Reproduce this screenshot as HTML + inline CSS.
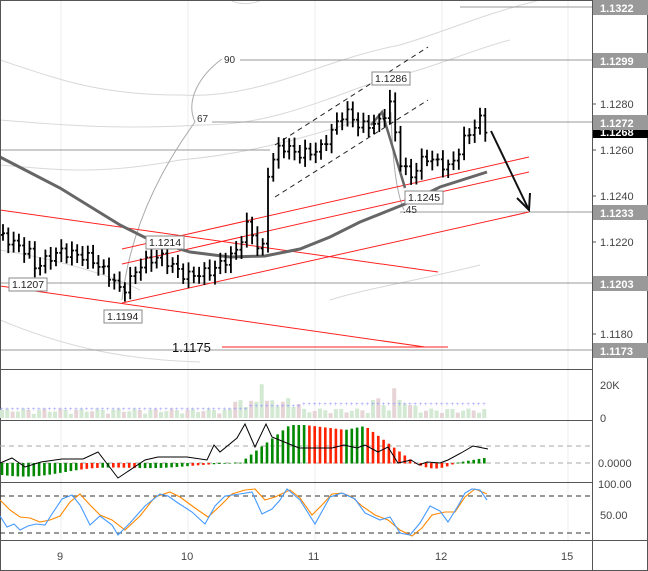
<!DOCTYPE html>
<html><head><meta charset="utf-8"><style>
body{margin:0;background:#fff;}
svg{display:block;font-family:"Liberation Sans",sans-serif;}
</style></head><body>
<svg id="s" width="648" height="571" viewBox="0 0 648 571" xmlns="http://www.w3.org/2000/svg">
<rect x="0" y="0" width="648" height="571" fill="#fff"/>
<g id="grid" stroke="#eee" stroke-width="1">
<line x1="61" y1="0" x2="61" y2="540"/><line x1="188" y1="0" x2="188" y2="540"/><line x1="315" y1="0" x2="315" y2="540"/><line x1="442" y1="0" x2="442" y2="540"/><line x1="568" y1="0" x2="568" y2="540"/>
</g>
<g fill="none" stroke="#d8d8d8" stroke-width="1">
<path d="M0,60 C60,80 100,95 180,95 C260,100 320,60 400,45 C450,30 480,15 540,0"/>
<path d="M0,120 C60,125 120,130 200,125 C260,125 300,110 380,80 C430,70 470,50 510,40"/>
<path d="M0,165 C60,170 100,175 180,160 C240,155 300,140 360,120"/>
<path d="M0,320 C60,345 120,360 200,362"/>
<path d="M330,300 C360,290 420,280 480,265"/>
<path d="M0,250 C60,260 110,275 140,290"/>
<path d="M230,0 C240,5 250,5 262,0"/>
</g>
<g stroke="#999" stroke-width="1">
<line x1="460" y1="7" x2="592" y2="7"/>
<line x1="240" y1="60" x2="592" y2="60"/>
<line x1="212" y1="122" x2="592" y2="122"/>
<line x1="400" y1="212" x2="592" y2="212"/>
<line x1="0" y1="283" x2="592" y2="283"/>
<line x1="0" y1="350" x2="592" y2="350"/>
<line x1="0" y1="150" x2="270" y2="150"/>
</g>
<path d="M122,300 C130,230 160,170 195,122 C185,100 200,75 222,59" fill="none" stroke="#aaa"/>
<path d="M391,112 C392,150 395,190 404,210" fill="none" stroke="#aaa"/>
<text x="224" y="63" font-size="10" fill="#333">90</text>
<text x="197" y="122" font-size="10" fill="#333">67</text>
<text x="403" y="213" font-size="10" fill="#333">.45</text>
<g stroke="#f22" stroke-width="1">
<line x1="0" y1="210" x2="438" y2="272"/>
<line x1="0" y1="286" x2="425" y2="347"/>
<line x1="122" y1="303" x2="529" y2="212"/>
<line x1="122" y1="264" x2="529" y2="172"/>
<line x1="122" y1="249" x2="529" y2="157"/>
<line x1="222" y1="347" x2="448" y2="347"/>
</g>
<text x="172" y="352" font-size="13" fill="#111">1.1175</text>
<g stroke="#222" stroke-dasharray="5,4" stroke-width="1">
<line x1="275" y1="145" x2="428" y2="47"/>
<line x1="275" y1="197" x2="428" y2="100"/>
</g>
<path d="M0,157 L60,188 L120,225 L150,240 L190,252 L230,257 L265,256 L300,249 L330,237 L360,222 L395,208 L405,204 L440,187 L487,172" fill="none" stroke="#666" stroke-width="3"/>
<path d="M371,125 L382,112 L405,188" fill="none" stroke="#666" stroke-width="2.5"/>
<g id="bars" stroke="#000" stroke-width="1.8"></g>
<line x1="491" y1="131" x2="528" y2="208" stroke="#111" stroke-width="2"/>
<path d="M517,198 L529,210 L530,193" fill="none" stroke="#111" stroke-width="2"/>
<g font-size="10.5" fill="#222">
<rect x="372" y="72" width="38" height="13" fill="#fff" stroke="#888"/><text x="375" y="82">1.1286</text>
<rect x="146" y="236" width="38" height="13" fill="#fff" stroke="#888"/><text x="149" y="246">1.1214</text>
<rect x="9" y="278" width="38" height="13" fill="#fff" stroke="#888"/><text x="12" y="288">1.1207</text>
<rect x="104" y="310" width="38" height="13" fill="#fff" stroke="#888"/><text x="107" y="320">1.1194</text>
<rect x="405" y="191" width="38" height="13" fill="#fff" stroke="#888"/><text x="408" y="201">1.1245</text>
</g>
<g stroke="#555" stroke-width="1">
<line x1="0" y1="369.5" x2="592" y2="369.5"/>
<line x1="0" y1="420.5" x2="592" y2="420.5"/>
<line x1="0" y1="482.5" x2="592" y2="482.5"/>
<line x1="0" y1="540.5" x2="648" y2="540.5"/>
<line x1="592.5" y1="0" x2="592.5" y2="571"/>
<line x1="0" y1="0.5" x2="648" y2="0.5"/>
<line x1="0.5" y1="0" x2="0.5" y2="571"/>
<line x1="647.5" y1="0" x2="647.5" y2="571"/>
<line x1="0" y1="570.5" x2="648" y2="570.5"/>
</g>
<g id="vol"></g>
<g stroke="#aaa" stroke-dasharray="5,4"><line x1="0" y1="446" x2="592" y2="446"/><line x1="0" y1="463" x2="592" y2="463"/></g>
<g id="macd"></g>
<g stroke="#333" stroke-dasharray="5,4"><line x1="0" y1="496" x2="592" y2="496"/><line x1="0" y1="533" x2="592" y2="533"/></g>
<g id="stoch"></g>
<g font-size="11" fill="#444">
<line x1="592" y1="104" x2="596" y2="104" stroke="#555"/><text x="600" y="108">1.1280</text>
<line x1="592" y1="150" x2="596" y2="150" stroke="#555"/><text x="600" y="154">1.1260</text>
<line x1="592" y1="196" x2="596" y2="196" stroke="#555"/><text x="600" y="200">1.1240</text>
<line x1="592" y1="242" x2="596" y2="242" stroke="#555"/><text x="600" y="246">1.1220</text>
<line x1="592" y1="334" x2="596" y2="334" stroke="#555"/><text x="600" y="338">1.1180</text>
<text x="600" y="389">20K</text><text x="600" y="422">0</text>
<text x="598" y="467">0.0000</text>
<text x="598" y="488">100.00</text><text x="600" y="519">50.00</text>
</g>
<g font-size="11" font-weight="bold" fill="#fff">
<rect x="593" y="126" width="55" height="12" fill="#000"/><text x="600" y="136">1.1268</text>
<rect x="593" y="0" width="55" height="15" fill="#999"/><text x="600" y="12">1.1322</text>
<rect x="593" y="53" width="55" height="15" fill="#999"/><text x="600" y="65">1.1299</text>
<rect x="593" y="115" width="55" height="15" fill="#999"/><text x="600" y="127">1.1272</text>
<rect x="593" y="205" width="55" height="15" fill="#999"/><text x="600" y="217">1.1233</text>
<rect x="593" y="276" width="55" height="15" fill="#999"/><text x="600" y="288">1.1203</text>
<rect x="593" y="343" width="55" height="15" fill="#999"/><text x="600" y="355">1.1173</text>
</g>
<g font-size="11" fill="#444">
<text x="57" y="560">9</text><text x="181" y="560">10</text><text x="308" y="560">11</text><text x="435" y="560">12</text><text x="561" y="560">15</text>
</g>
</svg>
<script>
var NS="http://www.w3.org/2000/svg";
function el(p,t,a){var e=document.createElementNS(NS,t);for(var k in a)e.setAttribute(k,a[k]);document.getElementById(p).appendChild(e);return e;}
function Y(p){return 7+(1.1322-p)*23020;}
var kp=[[0,1.1223],[30,1.1215],[35,1.1209],[60,1.1216],[90,1.1213],[110,1.1205],[122,1.1198],[140,1.1210],[160,1.1214],[185,1.1205],[210,1.1207],[235,1.1215],[248,1.1228],[262,1.1213],[268,1.1250],[280,1.1262],[300,1.1258],[320,1.1260],[345,1.1277],[360,1.1270],[380,1.1272],[390,1.1280],[400,1.1255],[410,1.1248],[425,1.1257],[450,1.1252],[465,1.1265],[480,1.1273],[487,1.1268]];
function P(x){for(var i=1;i<kp.length;i++){if(x<=kp[i][0]){var a=kp[i-1],b=kp[i];return a[1]+(b[1]-a[1])*(x-a[0])/(b[0]-a[0]);}}return kp[kp.length-1][1];}
var step=5.3,prev=P(0),i=0;
for(var x=3;x<=487;x+=step){i++;var c=P(x)+Math.sin(i*2.3)*0.0002;var o=prev;var hi=Math.max(o,c)+0.0002+Math.abs(Math.sin(i*1.7))*0.0002,lo=Math.min(o,c)-0.0002-Math.abs(Math.cos(i*1.3))*0.0002;
if(Math.abs(x-391)<3)hi=1.1286;
el("bars","line",{x1:x,y1:Y(hi),x2:x,y2:Y(lo)});
el("bars","line",{x1:x-2,y1:Y(o),x2:x,y2:Y(o)});
el("bars","line",{x1:x,y1:Y(c),x2:x+2,y2:Y(c)});
prev=c;}
// volume
var j=0;
for(var x=2;x<=487;x+=5.3){j++;var v=3+4*Math.abs(Math.sin(j*0.9))+(x>230&&x<300?9*Math.abs(Math.sin(j)):0)+(x>370&&x<420?8*Math.abs(Math.cos(j*0.7)):0);if(Math.abs(x-264)<3)v=25;if(Math.abs(x-392)<3)v=22;
var h=v*1.35;el("vol","rect",{x:x-2,y:418-h,width:4,height:h,fill:(j%3==0?"#e6d4d6":"#d3e9d3")});
var m=(x<250?409:(x<300?406:404));el("vol","text",{x:x-2,y:m+2,"font-size":"6",fill:"#99f"}).textContent="+";}
// macd histogram
function H(t){if(t<230)return -(15-t*0.065)*(0.75+0.25*Math.sin(t/22));if(t<240)return 0.5;if(t<290)return (t-240)*0.76;if(t<305)return 38;if(t<345)return 38-(t-305)*0.12;if(t<365)return 33+(t-345)*0.2;if(t<415)return 37-(t-365)*0.74;if(t<455)return -5*Math.sin((t-415)/40*Math.PI);return (t-455)*0.17;}
function C(t){if(t<230){if((t>78&&t<100)||(t>108&&t<136)||(t>188&&t<212))return "#f20";return "#080";}if(t<305)return "#080";if(t<345)return "#f20";if(t<365)return "#080";if(t<455)return "#f20";return "#080";}
for(var x=2;x<=487;x+=5.3){var hv=H(x);el("macd","rect",{x:x-1.3,y:Math.min(463,463-hv),width:2.6,height:Math.abs(hv)+0.5,fill:C(x)});}
var ml=[[0,463],[12,458],[25,467],[41,462],[62,459],[83,459],[98,452],[118,478],[145,460],[158,457],[187,457],[207,460],[214,445],[220,452],[237,438],[245,424],[255,447],[266,424],[272,437],[299,448],[332,448],[344,445],[357,448],[365,445],[378,452],[388,447],[398,463],[411,460],[419,465],[427,462],[440,463],[448,460],[461,453],[473,446],[488,449]];
var d="";ml.forEach(function(p,k){d+=(k?"L":"M")+p[0]+","+p[1];});
el("macd","path",{d:d,fill:"none",stroke:"#000","stroke-width":"1"});
var oo=[[0,500],[10,510],[20,517],[30,518],[40,522],[50,520],[60,516],[70,502],[80,494],[90,505],[100,515],[112,520],[125,530],[140,516],[155,497],[170,492],[180,497],[195,508],[208,517],[220,506],[232,494],[245,490],[255,489],[265,500],[275,497],[290,490],[300,498],[312,515],[322,505],[332,494],[342,493],[352,497],[362,506],[375,515],[388,520],[400,530],[412,536],[422,528],[432,515],[445,512],[455,512],[465,497],[475,489],[487,494]];
var kk=[[0,516],[7,527],[14,524],[20,530],[28,526],[36,524],[45,525],[52,514],[62,499],[72,495],[80,505],[90,525],[100,516],[112,525],[118,535],[130,523],[145,506],[160,494],[168,496],[178,503],[192,512],[205,524],[215,506],[225,496],[240,494],[252,492],[262,514],[272,509],[280,500],[287,489],[300,500],[315,524],[330,497],[342,493],[355,499],[365,513],[380,520],[390,517],[400,533],[410,535],[420,523],[430,506],[440,511],[448,522],[458,506],[465,493],[472,489],[480,490],[487,500]];
function pp(a,s){var d="";a.forEach(function(p,k){d+=(k?"L":"M")+p[0]+","+p[1];});el("stoch","path",{d:d,fill:"none",stroke:s,"stroke-width":"1.1"});}
pp(oo,"#f80");pp(kk,"#49f");
</script>
</body></html>
